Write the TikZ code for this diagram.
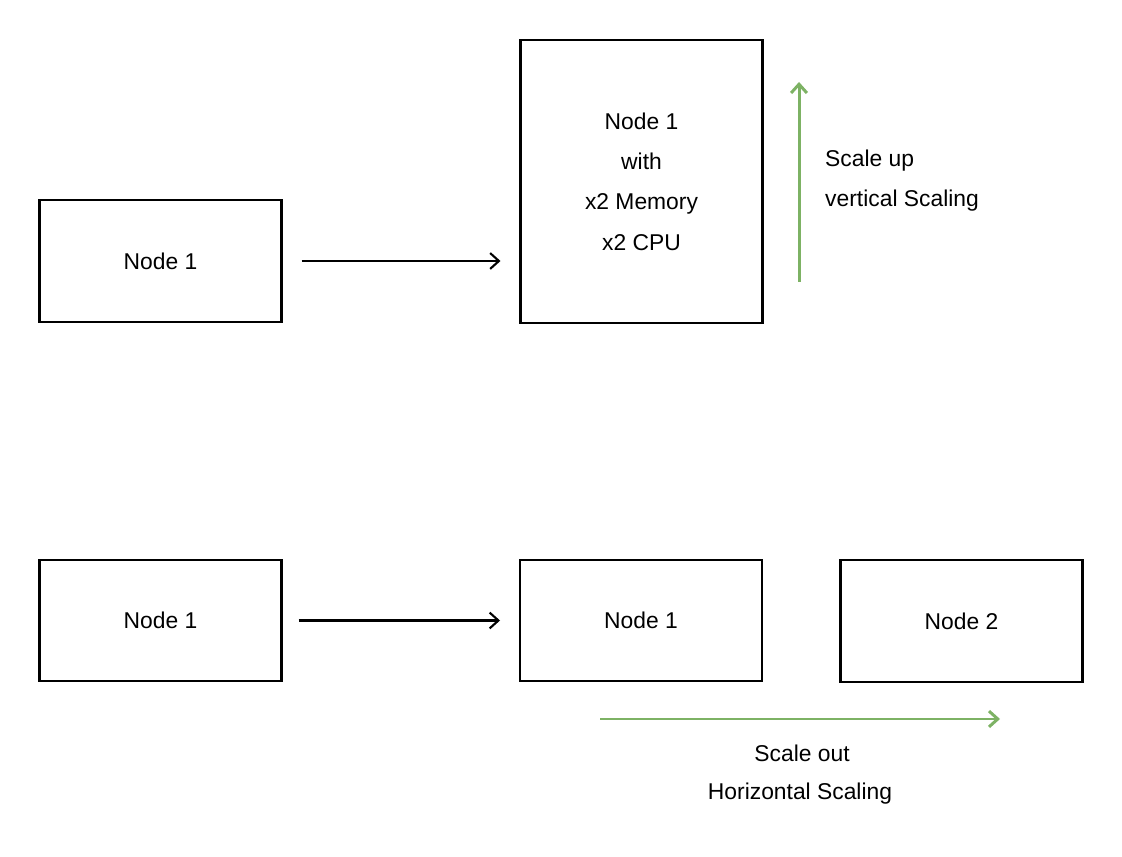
\documentclass[tikz,border=0pt]{standalone}
\usepackage{fontspec}
\setmainfont{Liberation Sans}
\usetikzlibrary{arrows.meta}
\definecolor{scalegreen}{RGB}{125,178,100}

\begin{document}
\begin{tikzpicture}[
  srv/.style={draw,line width=1.3pt,inner sep=0,outer sep=0,align=center,
    minimum width=4.84cm,minimum height=2.43cm,font=\fontsize{13}{23}\selectfont},
  arr/.style={line width=1.2pt,-{Straight Barb[length=5pt,width=9pt]}},
  garr/.style={scalegreen,line width=1.7pt,-{Straight Barb[length=5pt,width=9pt]}},
  lbl/.style={font=\fontsize{13}{16}\selectfont}]
  \useasboundingbox (0,0) rectangle (22.44,17.12);
  % scale up
  \node[srv] (up1) at (3.21,11.9) {Node 1};
  \node[srv,minimum height=5.66cm] (upbig) at (12.83,13.49) {Node 1\\with\\x2 Memory\\x2 CPU};
  \draw[arr,shorten <=0.4cm,shorten >=0.4cm] (up1.east) -- (up1.east -| upbig.west);
  \coordinate (vbot) at (15.98,11.48); \coordinate (vtop) at (15.98,15.48);
  \draw[garr] (vbot) -- (vtop);
  \node[lbl,anchor=west] (uptxt) at (16.38,13.9) {Scale up};
  \node[lbl,anchor=west] (vtxt) at (16.38,13.1) {vertical Scaling};
  % scale out
  \node[srv] (out1) at (3.21,4.71) {Node 1};
  \node[srv] (out2) at (12.82,4.71) {Node 1};
  \node[srv] (out3) at (19.23,4.70) {Node 2};
  \draw[arr,shorten <=0.34cm,shorten >=0.4cm] (out1) -- (out2);
  \coordinate (hl) at (12.0,2.74); \coordinate (hr) at (20.0,2.74);
  \draw[garr] (hl) -- (hr);
  \node[lbl] (outtxt) at (16.04,2.06) {Scale out};
  \node[lbl] (htxt) at (16.0,1.24) {Horizontal Scaling};
\end{tikzpicture}
\end{document}
